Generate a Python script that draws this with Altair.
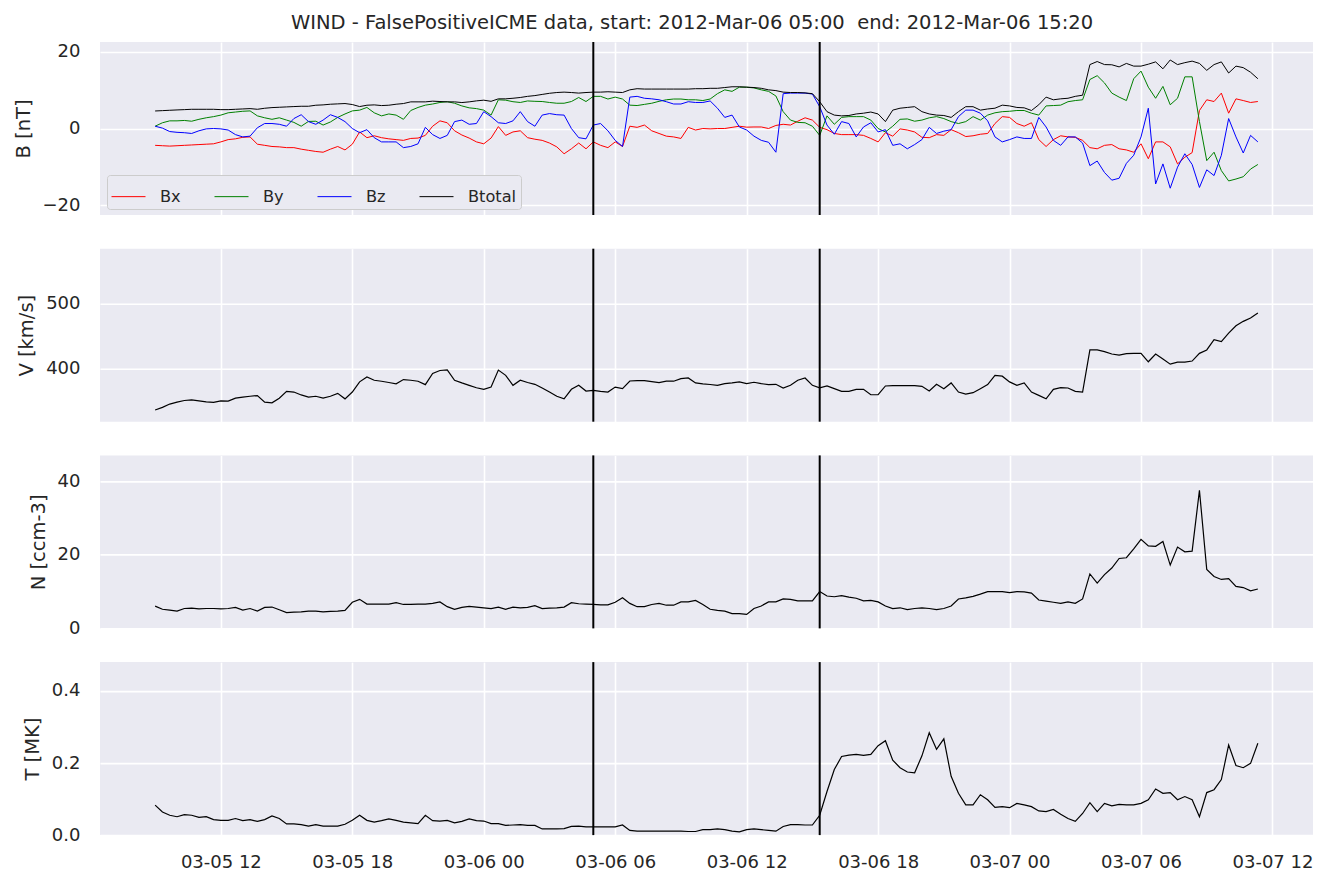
import altair as alt
import pandas as pd

# ---------------- data (20-minute samples, 2012-03-05 09:00 .. 2012-03-07 11:20) ----------------
START = "2012-03-05 09:00"
N_PTS = 152

BX = [-4.4, -4.5, -4.6, -4.5, -4.4, -4.3, -4.2, -4.1, -4.0, -3.5,
      -2.9, -2.7, -2.3, -2.2, -4.1, -4.4, -4.7, -4.8, -5.0, -5.0,
      -5.4, -5.7, -6.0, -6.2, -5.4, -4.7, -5.6, -4.1, -0.9, -2.4,
      -1.9, -2.4, -2.7, -2.9, -3.1, -2.6, -2.5, -1.8, 0.6, 2.0,
      1.5, -0.6, -1.7, -2.5, -3.5, -4.0, -2.5, 0.5,
      -1.8, -0.9, -0.6, -2.4, -2.8, -3.1, -3.8, -4.8, -6.6, -5.3,
      -3.8, -5.3, -3.5, -4.4, -5.0, -3.5, -4.7, 0.6, 0.3, 0.9,
      -0.6, -1.3, -2.0, -2.2, -2.6, 0.3, -0.4, 0.0, -0.1, 0.0,
      0.0, 0.3, 0.6, 0.35, 0.4, 0.4, 0.0, 0.8, 1.1, 0.9,
      1.9, 2.8, 2.2, 0.3, -0.3, -1.3, -1.6, -1.6, -1.6, -1.8,
      -2.6, -3.5,
      -1.1, -2.0, -0.1, -0.4, -0.9, -2.3, -2.4, -1.6, -1.8, -0.3,
      -1.1, -2.1, -1.9, -1.5, -1.3, 1.3, 3.1, 2.9, 1.3, 0.6,
      1.5, -2.9, -4.7, -2.9, -1.9, -2.2, -2.3, -3.1, -5.0, -5.3,
      -4.4, -4.2, -5.3, -5.6, -6.2, -4.0, -7.9, -3.5, -3.5, -4.8,
      -9.25, -7.5, -6.3, 4.7, 7.5, 7.05, 9.25, 4.0, 7.75, 7.3,
      6.8, 7.05]

BY = [0.6, 1.5, 2.0, 2.0, 2.1, 1.9, 2.4, 2.8, 3.1, 3.5,
      4.1, 4.3, 4.5, 4.6, 3.3, 2.8, 2.4, 2.8, 2.2, 1.6,
      0.6, 1.85, 1.9, 0.9, 1.7, 2.9, 3.8, 4.6, 4.8, 5.5,
      4.1, 3.3, 3.8, 3.5, 2.4, 4.7, 5.5, 6.1, 6.4, 6.8,
      7.0, 6.6, 5.9, 5.4, 5.2, 4.8, 3.5, 7.5,
      7.4, 7.0, 6.8, 7.2, 7.1, 7.05, 6.8, 6.6, 6.6, 7.05,
      8.1, 7.05, 8.4, 8.4, 7.7, 8.2, 7.7, 6.1, 6.0, 6.3,
      6.6, 7.1, 7.5, 7.7, 7.7, 7.5, 7.5, 7.3, 7.7, 9.1,
      10.1, 9.7, 10.8, 10.8, 10.6, 10.1, 9.7, 8.5, 4.4, 2.2,
      1.6, 1.5, 0.6, -1.8, 3.3, 1.1, 2.9, 3.1, 3.1, 3.1,
      2.2, 0.0,
      -0.9, 0.6, 2.4, 2.5, 1.9, 2.2, 2.8, 3.1, 2.6, 1.8,
      1.3, 1.8, 3.1, 2.2, 3.5, 4.1, 4.4, 4.5, 4.7, 4.7,
      4.0, 3.5, 5.9, 6.0, 6.1, 7.0, 7.3, 7.5, 12.8, 13.8,
      11.9, 9.25, 8.2, 7.3, 13.0, 15.0, 10.8, 7.9, 11.0, 6.2,
      7.9, 13.5, 13.5, 1.8, -8.4, -6.2, -11.0, -13.7, -13.2, -12.6,
      -10.6, -9.4]

BZ = [0.6, 0.1, -0.8, -1.0, -1.1, -1.3, -0.6, -0.1, 0.0, -0.1,
      -0.4, -1.6, -2.2, -2.0, 0.2, 1.3, 1.3, 1.1, 0.6, 2.6,
      3.6, 1.8, 1.1, 2.2, 3.6, 2.9, 1.8, 0.0, -1.1, -0.3,
      -2.4, -3.5, -3.5, -3.5, -5.0, -4.7, -4.0, 0.3, -1.6, -2.6,
      -1.8, 1.8, 2.2, 1.1, 1.3, 4.4, 3.1, 1.5,
      1.3, 2.0, 4.4, 1.8, 0.6, 3.5, 3.9, 3.6, 3.5, 0.0,
      -2.4, -2.7, 0.9, 1.3, -0.6, -3.1, -4.7, 8.2, 8.4, 7.9,
      7.75, 7.5, 7.0, 6.4, 6.4, 7.0, 6.8, 6.8, 7.2, 5.3,
      2.9, 3.5, 0.4, -0.4, -2.0, -3.1, -3.6, -6.2, 9.1, 9.25,
      9.25, 9.25, 9.0, 5.7, 0.9, -1.5, 1.8, 1.3, -2.2, 0.4,
      1.5, -0.9,
      -0.3, -4.4, -4.0, -5.3, -4.2, -2.9, 0.3, -1.3, -0.7, -0.3,
      3.1, 4.8, 4.8, 4.0, 2.0, -2.2, -3.5, -2.9, -2.2, -2.6,
      -2.6, 2.9, 0.4, -3.1, -4.4, -2.2, -2.2, -3.8, -9.7, -8.5,
      -11.5, -13.5, -13.0, -9.1, -7.0, -2.2, 5.3, -14.5, -9.25, -15.6,
      -10.1, -6.6, -9.4, -15.4, -10.8, -12.3, -7.0, 2.6, -2.2, -6.4,
      -1.8, -3.5]

BT = [4.58, 4.67, 4.76, 4.85, 4.93, 5.02, 5.02, 5.02, 5.02, 4.93,
      4.93, 5.02, 5.11, 5.2, 5.02, 5.29, 5.46, 5.55, 5.64, 5.73,
      5.81, 5.81, 6.08, 6.17, 6.34, 6.43, 6.52, 6.26, 5.73, 6.08,
      6.17, 5.99, 6.08, 6.34, 6.52, 6.96, 6.96, 6.96, 7.14, 7.05,
      6.96, 6.96, 6.78, 6.96, 7.22, 7.4, 7.1, 7.75,
      7.75, 7.9, 8.1, 8.4, 8.6, 8.9, 9.2, 9.4, 9.5, 9.4,
      9.25, 9.4, 9.5, 9.5, 9.6, 9.5, 9.4, 10.1, 10.4, 10.3,
      10.3, 10.3, 10.3, 10.3, 10.3, 10.3, 10.4, 10.4, 10.5, 10.5,
      10.7, 10.9, 10.9, 10.8, 10.7, 10.5, 10.1, 9.9, 9.5, 9.4,
      9.4, 9.3, 9.1, 7.0, 4.4, 3.5, 3.3, 3.4, 3.8, 4.0,
      4.3, 3.8,
      1.8, 4.8, 5.3, 5.5, 5.7, 4.4, 3.8, 3.5, 3.4, 2.9,
      4.4, 5.7, 5.7, 4.8, 5.1, 5.3, 6.1, 5.9, 5.5, 5.4,
      4.7, 6.2, 8.2, 7.5, 7.75, 7.9, 8.4, 8.7, 16.7, 17.5,
      16.7, 16.65, 16.1, 17.0, 16.3, 16.3, 16.8, 17.4, 15.6, 17.9,
      16.7, 17.2, 17.6, 17.0, 15.2, 16.7, 17.4, 14.5, 16.3, 15.9,
      14.7, 13.0]

V = [337, 341, 346, 349, 351.5, 352.5, 351, 349.5, 348.5, 351,
     350.5, 355, 356.7, 358, 359, 349, 348, 355, 365.5, 364.4,
     360, 356.7, 358, 355, 358, 362.4, 354, 364.4, 380, 387.6,
     382.5, 381, 379, 377, 383.5, 382.5, 381, 375.8, 392.8, 397.4,
     398.5, 382.5, 378.4, 374.7, 371, 368.6, 372, 398, 390, 374.7,
     382.5, 379, 376.3, 370.6, 364.4, 358, 354, 368.6, 374.7, 366,
     367, 365.5, 364.4, 372, 369.6, 381.4, 382, 382, 380.4, 378.9,
     381, 381, 385, 386, 378.4, 377,
     376, 374.7, 377.3, 378.4, 380, 377.3, 379.4, 377.3, 375.8, 376.3,
     370.6, 374.7, 382.5, 386, 374.7, 371, 373.7, 369.6, 365.5, 365.5,
     368.6, 368.6, 360.3, 360.3, 373.7, 374.2, 374.2, 374.2, 374.2, 373.2,
     366, 376.3, 369.6, 378.4, 364.4, 361.3, 363.4, 369.6, 375.8, 390,
     388.7, 380, 374.7, 378.4, 364.4, 359.3, 354, 368.6, 371.1, 370.6,
     365.5, 364.4, 428.9, 428.9, 426.3, 422.7, 421.1, 423.2, 423.7, 423.7,
     410.8, 422.7, 415, 407.2, 410.3, 410.3, 411.9, 423.7, 428.9, 444.8,
     441.8, 454.6, 466, 472.7, 477.8, 485.6]

N = [6.05, 5.2, 4.95, 4.7, 5.4, 5.5, 5.3, 5.4, 5.4, 5.3,
     5.4, 5.7, 4.95, 5.4, 4.7, 5.7, 5.8, 5.05, 4.3, 4.4,
     4.5, 4.7, 4.7, 4.5, 4.6, 4.7, 4.9, 7.1, 7.9, 6.6,
     6.6, 6.6, 6.6, 7.0, 6.5, 6.5, 6.6, 6.6, 6.8, 7.2,
     5.9, 5.2, 5.7, 6.0, 5.8, 5.6, 5.4, 5.8, 5.2, 5.8,
     5.6, 5.7, 6.2, 5.4, 5.5, 5.6, 5.8, 7.0, 6.7, 6.6,
     6.5, 6.4, 6.4, 7.1, 8.35, 6.8, 5.9, 5.9, 6.5, 6.8,
     6.3, 6.3, 7.2, 7.2, 7.6, 6.5,
     5.2, 4.9, 4.7, 4.0, 4.0, 3.8, 5.4, 6.1, 7.2, 7.2,
     8.0, 7.9, 7.5, 7.5, 7.5, 10.0, 8.8, 8.6, 8.9, 8.5,
     8.2, 7.5, 7.6, 7.2, 6.1, 5.4, 5.6, 5.1, 5.4, 5.6,
     5.4, 5.1, 5.4, 6.1, 8.0, 8.3, 8.7, 9.3, 10.0, 10.0,
     10.0, 9.7, 10.0, 9.9, 9.6, 7.7, 7.4, 7.1, 6.8, 7.2,
     6.8, 8.0, 14.8, 12.3, 14.6, 16.4, 19.0, 19.2, 21.6, 24.2,
     22.4, 22.3, 23.6, 17.2, 22.1, 20.8, 21.0, 37.5, 16.0, 14.1,
     13.3, 13.5, 11.4, 11.1, 10.2, 10.7]

T = [0.083, 0.064, 0.055, 0.051, 0.057, 0.055, 0.049, 0.051, 0.043, 0.041,
     0.041, 0.046, 0.040, 0.043, 0.038, 0.043, 0.053, 0.046, 0.031, 0.031,
     0.029, 0.025, 0.029, 0.025, 0.025, 0.025, 0.030, 0.041, 0.055, 0.041,
     0.036, 0.040, 0.045, 0.041, 0.036, 0.034, 0.032, 0.055, 0.040, 0.039,
     0.041, 0.034, 0.038, 0.045, 0.040, 0.039, 0.032, 0.032, 0.027, 0.028,
     0.029, 0.027, 0.027, 0.017, 0.017, 0.017, 0.018, 0.024, 0.025, 0.023,
     0.023, 0.023, 0.023, 0.023, 0.028, 0.013, 0.011, 0.011, 0.011, 0.011,
     0.011, 0.011, 0.011, 0.010, 0.010, 0.015,
     0.015, 0.017, 0.015, 0.011, 0.009, 0.015, 0.017, 0.015, 0.013, 0.011,
     0.024, 0.029, 0.029, 0.028, 0.028, 0.055, 0.121, 0.182, 0.218, 0.222,
     0.224, 0.221, 0.224, 0.248, 0.262, 0.208, 0.187, 0.175, 0.173, 0.220,
     0.284, 0.238, 0.267, 0.163, 0.116, 0.084, 0.084, 0.112, 0.098, 0.077,
     0.079, 0.076, 0.088, 0.084, 0.079, 0.067, 0.065, 0.071, 0.058, 0.046,
     0.038, 0.060, 0.090, 0.065, 0.088, 0.081, 0.085, 0.084, 0.084, 0.088,
     0.098, 0.128, 0.116, 0.118, 0.098, 0.107, 0.098, 0.051, 0.118, 0.126,
     0.154, 0.250, 0.193, 0.187, 0.199, 0.255]

COMPONENTS = ["Bx", "By", "Bz", "Btotal"]
COMP_COLORS = ["red", "green", "blue", "black"]
EVENT_TIMES = ["2012-03-06T05:00:00", "2012-03-06T15:20:00"]
X_TICKS = ["2012-03-05T12:00:00", "2012-03-05T18:00:00", "2012-03-06T00:00:00",
           "2012-03-06T06:00:00", "2012-03-06T12:00:00", "2012-03-06T18:00:00",
           "2012-03-07T00:00:00", "2012-03-07T06:00:00", "2012-03-07T12:00:00"]
TITLE = "WIND - FalsePositiveICME data, start: 2012-Mar-06 05:00 \u00a0end: 2012-Mar-06 15:20"

# ---------------- tables ----------------
times = pd.date_range(START, periods=N_PTS, freq="20min").strftime("%Y-%m-%dT%H:%M:%S").tolist()

b_long = pd.DataFrame({
    "time": times * 4,
    "value": BX + BY + BZ + BT,
    "comp": sum([[c] * N_PTS for c in COMPONENTS], []),
})
plasma = pd.DataFrame({"time": times, "V": V, "N": N, "T": T})
events = pd.DataFrame({"time": EVENT_TIMES})


def to_dt(s):
    ts = pd.Timestamp(s)
    return alt.DateTime(year=ts.year, month=ts.month, date=ts.day, hours=ts.hour, minutes=ts.minute)


FONT = "DejaVu Sans"
TXT = "#262626"
W, H = 1213, 173

x_dom = [to_dt("2012-03-05T06:29:00"), to_dt("2012-03-07T13:51:00")]
x_vals = [to_dt(s) for s in X_TICKS]


def xenc(show_labels):
    return alt.X(
        "time:T",
        scale=alt.Scale(domain=x_dom),
        axis=alt.Axis(title=None, format="%m-%d %H", labels=show_labels, values=x_vals,
                      labelFlush=False, labelPadding=18, labelFontSize=18),
    )


def rules(show_labels):
    return alt.Chart(events).mark_rule(color="black", strokeWidth=2).encode(x=xenc(show_labels))


def yaxis(title, values, fmt="d"):
    return alt.Axis(title=title, values=values, format=fmt, labelPadding=20,
                    titlePadding=9, labelFontSize=18, titleFontSize=19.5)


b_lines = alt.Chart(b_long).mark_line(strokeWidth=1).encode(
    x=xenc(False),
    y=alt.Y("value:Q", scale=alt.Scale(domain=[-22.6, 22.6]), axis=yaxis("B [nT]", [-20, 0, 20])),
    color=alt.Color("comp:N", scale=alt.Scale(domain=COMPONENTS, range=COMP_COLORS),
                    legend=alt.Legend(title=None, orient="none", legendX=7, legendY=133,
                                      direction="horizontal", symbolType="stroke",
                                      symbolSize=1156, symbolStrokeWidth=1,
                                      labelFontSize=16.2, labelOffset=14, columnPadding=31,
                                      padding=4, fillColor="#EAEAF2", strokeColor="#cccccc",
                                      cornerRadius=3, labelColor=TXT, labelFont=FONT)),
)
p1 = alt.layer(b_lines, rules(False)).properties(width=W, height=H)

p2 = alt.layer(
    alt.Chart(plasma).mark_line(color="black", strokeWidth=1.2).encode(
        x=xenc(False),
        y=alt.Y("V:Q", scale=alt.Scale(domain=[319, 584]), axis=yaxis("V [km/s]", [400, 500]))),
    rules(False)).properties(width=W, height=H)

p3 = alt.layer(
    alt.Chart(plasma).mark_line(color="black", strokeWidth=1.2).encode(
        x=xenc(False),
        y=alt.Y("N:Q", scale=alt.Scale(domain=[0, 47]), axis=yaxis("N [ccm-3]", [0, 20, 40]))),
    rules(False)).properties(width=W, height=H)

p4 = alt.layer(
    alt.Chart(plasma).mark_line(color="black", strokeWidth=1.2).encode(
        x=xenc(True),
        y=alt.Y("T:Q", scale=alt.Scale(domain=[0, 0.48]), axis=yaxis("T [MK]", [0, 0.2, 0.4], ".1f"))),
    rules(True)).properties(width=W, height=H)

chart = alt.vconcat(p1, p2, p3, p4, spacing=33.7, bounds="flush").properties(
    title=alt.TitleParams(TITLE, fontSize=19.5, font=FONT, fontWeight="normal", color=TXT,
                          anchor="middle", offset=8, dx=29),
    padding={"left": 13, "top": 12, "right": 5, "bottom": 5},
    background="white",
).configure_view(
    fill="#EAEAF2", strokeWidth=0
).configure_axis(
    domain=False, ticks=False, grid=True, gridColor="white", gridWidth=1.6,
    labelColor=TXT, titleColor=TXT, labelFont=FONT, titleFont=FONT, titleFontWeight="normal",
)

chart.save("out.html", embed_options={"renderer": "svg", "actions": False})
